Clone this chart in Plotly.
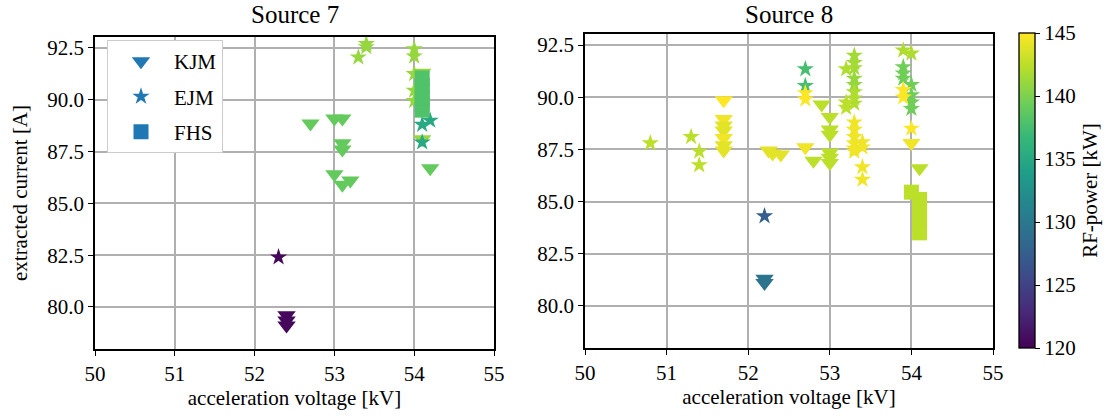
import plotly.graph_objects as go

# ---------------- data ----------------
# Source 7
s7_kjm_v = [52.4, 52.4, 52.4, 52.7, 53.0, 53.1, 53.1, 53.1, 53.0, 53.2, 53.1, 54.2, 54.1, 54.1]
s7_kjm_i = [79.6, 79.35, 79.1, 88.85, 89.1, 89.1, 87.9, 87.6, 86.4, 86.1, 85.9, 86.7, 91.3, 88.1]
s7_kjm_p = [120.5, 120.5, 120.5, 139, 139, 139, 139, 139, 139, 139, 139, 139, 141, 141]

s7_ejm_v = [52.3, 53.3, 53.4, 53.4, 54.0, 54.0, 54.0, 54.0, 54.0, 54.1, 54.2, 54.1]
s7_ejm_i = [82.4, 92.05, 92.55, 92.7, 92.45, 92.1, 91.25, 90.45, 89.95, 88.8, 89.0, 87.95]
s7_ejm_p = [120.5, 141, 141, 141, 141, 141, 141, 141, 141, 135, 135, 135]

s7_fhs_v = [54.1, 54.1, 54.1, 54.1, 54.1, 54.1]
s7_fhs_i = [89.5, 89.8, 90.1, 90.4, 90.7, 91.05]
s7_fhs_p = [138, 138, 138, 138, 138, 138]

# Source 8
s8_kjm_v = [51.7, 51.7, 51.7, 51.7, 51.7, 51.7, 51.7,
            52.2, 52.2, 52.25, 52.3, 52.4, 52.7, 52.8, 52.9,
            53.0, 53.0, 53.0, 53.0, 53.0, 53.0, 54.0, 54.1]
s8_kjm_i = [89.85, 88.95, 88.65, 88.4, 88.05, 87.7, 87.45,
            81.3, 81.1, 87.45, 87.3, 87.25, 87.6, 86.95, 89.65,
            89.05, 88.45, 88.2, 87.35, 87.1, 86.85, 87.8, 86.6]
s8_kjm_p = [145, 144.5, 144, 144, 144.5, 144, 144,
            129.5, 129.5, 144, 144, 144, 144.5, 142.5, 142.5,
            142.5, 142.5, 142.5, 142.5, 142.5, 142.5, 144.5, 142.5]

s8_ejm_v = [50.8, 51.3, 51.4, 51.4, 52.2,
            52.7, 52.7, 52.7, 52.7,
            53.3, 53.3, 53.3, 53.3, 53.3, 53.3, 53.3, 53.3, 53.2, 53.2, 53.2,
            53.3, 53.3, 53.3, 53.3, 53.3, 53.3, 53.4, 53.4, 53.4, 53.4,
            53.9, 54.0, 53.9, 53.9, 53.9, 54.0, 54.0, 54.0, 54.0, 53.9, 53.9, 54.0]
s8_ejm_i = [87.8, 88.1, 87.4, 86.75, 84.3,
            91.35, 90.55, 90.2, 89.9,
            92.0, 91.65, 91.4, 90.9, 90.6, 90.25, 89.95, 89.7, 91.35, 89.75, 89.5,
            88.8, 88.45, 88.1, 87.8, 87.55, 87.4, 87.85, 87.6, 86.65, 86.05,
            92.25, 92.1, 91.45, 91.15, 90.9, 90.6, 90.1, 89.75, 89.45, 90.35, 90.0, 88.5]
s8_ejm_p = [142.5, 142.5, 142.5, 142.5, 127.5,
            137.5, 137.5, 145, 145,
            141.5, 141.5, 141.5, 141, 141, 142, 142, 142, 142, 142.5, 142.5,
            144.5, 144.5, 144.5, 144.5, 144.5, 144.5, 144.5, 144.5, 144.5, 144.5,
            142, 142, 139.5, 139.5, 139.5, 139.5, 139.5, 139.5, 139.5, 145, 145, 145]

s8_fhs_v = [54.0, 54.1, 54.1, 54.1, 54.1, 54.1, 54.1]
s8_fhs_i = [85.45, 85.1, 84.8, 84.5, 84.2, 83.85, 83.5]
s8_fhs_p = [142.5, 142.5, 142.5, 142.5, 142.5, 142.5, 142.5]

groups = ["KJM", "EJM", "FHS"]
symbols = {"KJM": "triangle-down", "EJM": "star", "FHS": "square"}
sizes = {"KJM": 16, "EJM": 13, "FHS": 15}

FONT = "Liberation Serif"
W, H = 1112, 416

panels = [
    ("x", "y", {"KJM": (s7_kjm_v, s7_kjm_i, s7_kjm_p),
                "EJM": (s7_ejm_v, s7_ejm_i, s7_ejm_p),
                "FHS": (s7_fhs_v, s7_fhs_i, s7_fhs_p)}),
    ("x2", "y2", {"KJM": (s8_kjm_v, s8_kjm_i, s8_kjm_p),
                  "EJM": (s8_ejm_v, s8_ejm_i, s8_ejm_p),
                  "FHS": (s8_fhs_v, s8_fhs_i, s8_fhs_p)}),
]

fig = go.Figure()

for xa, ya, data in panels:
    for g in groups:
        v, i, p = data[g]
        fig.add_trace(go.Scatter(
            x=v, y=i, mode="markers", xaxis=xa, yaxis=ya, showlegend=False,
            marker=dict(symbol=symbols[g], size=sizes[g], color=p,
                        coloraxis="coloraxis", line=dict(width=0)),
        ))

# legend entries in the default blue
for g in groups:
    fig.add_trace(go.Scatter(
        x=[None], y=[None], mode="markers", name=g, legendgroup=g,
        marker=dict(symbol=symbols[g], size=sizes[g], color="#1f77b4", line=dict(width=0)),
    ))

axis_common = dict(
    showline=True, linecolor="black", linewidth=1.5, mirror=True,
    showgrid=True, gridcolor="#b0b0b0", gridwidth=1.5,
    ticks="outside", ticklen=5, tickwidth=1.3, tickcolor="black",
    tickfont=dict(family=FONT, size=21, color="black"),
    zeroline=False, automargin=False,
)

xticks = [50, 51, 52, 53, 54, 55]
yticks = [80.0, 82.5, 85.0, 87.5, 90.0, 92.5]
ylabels = ["80.0", "82.5", "85.0", "87.5", "90.0", "92.5"]

fig.update_layout(
    width=W, height=H,
    margin=dict(l=0, r=0, t=0, b=0),
    paper_bgcolor="white", plot_bgcolor="white",
    font=dict(family=FONT, color="black"),
    xaxis=dict(domain=[95 / W, 494 / W], range=[50, 55], tickvals=xticks,
               title=dict(text="acceleration voltage [kV]", font=dict(size=21), standoff=4),
               anchor="y", **axis_common),
    yaxis=dict(domain=[1 - 349 / H, 1 - 37 / H], range=[77.97, 93.03],
               tickvals=yticks, ticktext=ylabels,
               title=dict(text="extracted current [A]", font=dict(size=21), standoff=14),
               anchor="x", **axis_common),
    xaxis2=dict(domain=[585 / W, 993 / W], range=[50, 55], tickvals=xticks,
                title=dict(text="acceleration voltage [kV]", font=dict(size=21), standoff=4),
                anchor="y2", **axis_common),
    yaxis2=dict(domain=[1 - 348 / H, 1 - 34 / H], range=[77.98, 93.03],
                tickvals=yticks, ticktext=ylabels, anchor="x2", **axis_common),
    coloraxis=dict(
        colorscale="Viridis", cmin=120, cmax=145,
        colorbar=dict(
            x=1019 / W, xanchor="left", xpad=0,
            y=1 - 33 / H, yanchor="top", ypad=0,
            len=(348 - 33) / H, lenmode="fraction",
            thickness=16, thicknessmode="pixels",
            outlinecolor="black", outlinewidth=1.3,
            ticks="outside", ticklen=5, tickcolor="black",
            tickvals=[120, 125, 130, 135, 140, 145],
            tickfont=dict(family=FONT, size=21, color="black"),
            title=dict(text="RF-power [kW]", side="right",
                       font=dict(family=FONT, size=21, color="black")),
        ),
    ),
    legend=dict(
        x=107 / W, y=1 - 40 / H, xanchor="left", yanchor="top",
        bgcolor="white", bordercolor="#cccccc", borderwidth=1,
        font=dict(family=FONT, size=21, color="black"),
        tracegroupgap=5, itemwidth=56,
    ),
    annotations=[
        dict(text="Source 7", x=(95 + 494) / 2 / W, y=1 - 15 / H, xref="paper", yref="paper",
             xanchor="center", yanchor="middle",
             showarrow=False, font=dict(family=FONT, size=25, color="black")),
        dict(text="Source 8", x=(585 + 993) / 2 / W, y=1 - 15 / H, xref="paper", yref="paper",
             xanchor="center", yanchor="middle",
             showarrow=False, font=dict(family=FONT, size=25, color="black")),
    ],
)

fig.write_html("out.html")
